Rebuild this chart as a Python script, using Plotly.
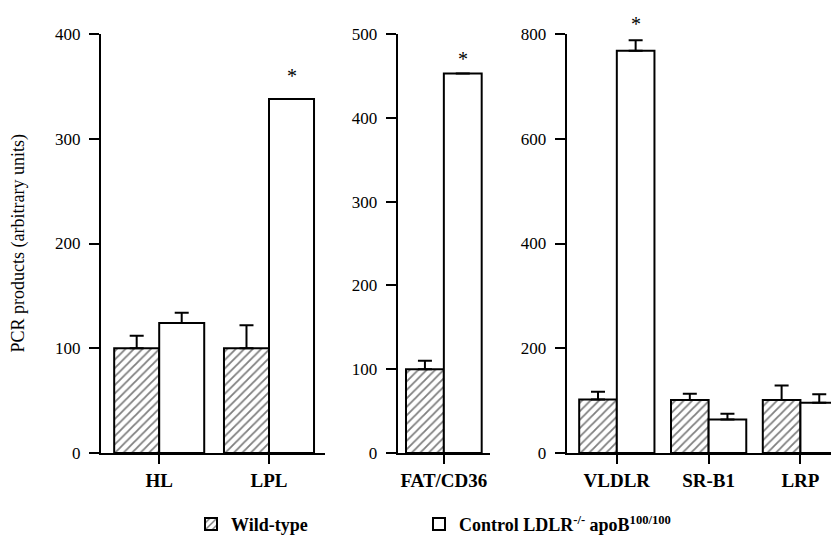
import plotly.graph_objects as go

# ---- data ----
panel1_genes = ["HL", "LPL"]
panel1_wt = [100, 100]
panel1_wt_err = [12, 22]
panel1_ctrl = [124, 338]
panel1_ctrl_err = [10, 0]

panel2_genes = ["FAT/CD36"]
panel2_wt = [100]
panel2_wt_err = [10]
panel2_ctrl = [453]
panel2_ctrl_err = [0]

panel3_genes = ["VLDLR", "SR-B1", "LRP"]
panel3_wt = [102, 101, 101]
panel3_wt_err = [15, 12, 28]
panel3_ctrl = [768, 64, 96]
panel3_ctrl_err = [20, 11, 16]

significant_genes = ["LPL", "FAT/CD36", "VLDLR"]
star_shift = {"LPL": 11, "FAT/CD36": 2, "VLDLR": 4}

series_names = ["Wild-type", "Control LDLR<sup>-/-</sup> apoB<sup>100/100</sup>"]
y_title = "PCR products (arbitrary units)"

FONT = "Liberation Serif, Times New Roman, serif"
BARGAP = 0.18

# page body has an 8px default margin; lay the figure out in page pixels
OFF = 8
W, H = 839 - 2 * OFF, 543 - 2 * OFF
TOP_PX, BOT_PX = 34 - OFF, 452.7 - OFF
M_T, M_B = TOP_PX, H - BOT_PX
PLOT_H = BOT_PX - TOP_PX


def px(x):
    return (x - OFF) / W


fig = go.Figure()

panels = [
    (panel1_genes, panel1_wt, panel1_wt_err, panel1_ctrl, panel1_ctrl_err, "x", "y"),
    (panel2_genes, panel2_wt, panel2_wt_err, panel2_ctrl, panel2_ctrl_err, "x2", "y2"),
    (panel3_genes, panel3_wt, panel3_wt_err, panel3_ctrl, panel3_ctrl_err, "x3", "y3"),
]

for i, (genes, wt, wte, ct, cte, xa, ya) in enumerate(panels):
    fig.add_trace(go.Bar(
        x=genes, y=wt, name=series_names[0], xaxis=xa, yaxis=ya,
        legend="legend", showlegend=(i == 0),
        marker=dict(color="white", line=dict(color="black", width=2),
                    pattern=dict(shape="/", fgcolor="black", bgcolor="white",
                                 size=6, solidity=0.3)),
        error_y=dict(type="data", array=wte, arrayminus=[0] * len(wte),
                     symmetric=False, color="black", thickness=2, width=7),
    ))
    fig.add_trace(go.Bar(
        x=genes, y=ct, name=series_names[1], xaxis=xa, yaxis=ya,
        legend="legend2", showlegend=(i == 0),
        marker=dict(color="white", line=dict(color="black", width=2)),
        error_y=dict(type="data", array=cte, arrayminus=[0] * len(cte),
                     symmetric=False, color="black", thickness=2, width=7),
    ))
    off = (1 - BARGAP) / 4
    for j, g in enumerate(genes):
        if g in significant_genes:
            fig.add_annotation(
                x=j + off, y=ct[j] + cte[j], xref=xa, yref=ya,
                text="*", showarrow=False, yanchor="bottom", yshift=star_shift[g],
                borderpad=0,
                font=dict(family=FONT, size=20, color="black"),
            )

# y-axis title as a rotated label at the left edge
fig.add_annotation(
    x=px(18), y=0.5, xref="paper", yref="paper", text=y_title, textangle=-90,
    showarrow=False, xanchor="center", yanchor="middle",
    font=dict(family=FONT, size=18, color="black"),
)

axis_common_x = dict(
    type="category", showline=True, linecolor="black", linewidth=2,
    ticks="outside", ticklen=9, tickwidth=2, tickcolor="black",
    tickfont=dict(family=FONT, size=19, color="black", weight="bold"),
    showgrid=False, zeroline=False, fixedrange=True, automargin=False,
)
axis_common_y = dict(
    showline=True, linecolor="black", linewidth=2,
    ticks="outside", ticklen=10, tickwidth=2, tickcolor="black",
    tickfont=dict(family=FONT, size=17, color="black"),
    showgrid=False, zeroline=False, ticklabelstandoff=5, automargin=False,
)

leg_y = -((524 - OFF) - BOT_PX) / PLOT_H
leg_font = dict(family=FONT, size=18, color="black", weight="bold")

fig.update_layout(
    width=W, height=H,
    margin=dict(l=0, r=0, t=M_T, b=M_B, autoexpand=False),
    paper_bgcolor="white", plot_bgcolor="white",
    barmode="group", bargap=BARGAP, bargroupgap=0,
    font=dict(family=FONT, color="black"),
    xaxis=dict(axis_common_x, domain=[px(101), px(325)], range=[-0.53, 1.51], anchor="y"),
    xaxis2=dict(axis_common_x, domain=[px(397.7), px(490)], range=[-0.5, 0.5], anchor="y2"),
    xaxis3=dict(axis_common_x, domain=[px(566.7), 1.0], range=[-0.546, 2.333], anchor="y3"),
    yaxis=dict(axis_common_y, domain=[0, 1], range=[0, 400], tickvals=[0, 100, 200, 300, 400],
               anchor="x"),
    yaxis2=dict(axis_common_y, domain=[0, 1], range=[0, 500], tickvals=[0, 100, 200, 300, 400, 500],
                anchor="x2"),
    yaxis3=dict(axis_common_y, domain=[0, 1], range=[0, 800], tickvals=[0, 200, 400, 600, 800],
                anchor="x3"),
    legend=dict(orientation="h", x=183 / W, xanchor="left", y=leg_y, yanchor="middle",
                font=leg_font, bgcolor="rgba(0,0,0,0)"),
    legend2=dict(orientation="h", x=411 / W, xanchor="left", y=leg_y, yanchor="middle",
                 font=leg_font, bgcolor="rgba(0,0,0,0)"),
)

fig.write_html("out.html")
